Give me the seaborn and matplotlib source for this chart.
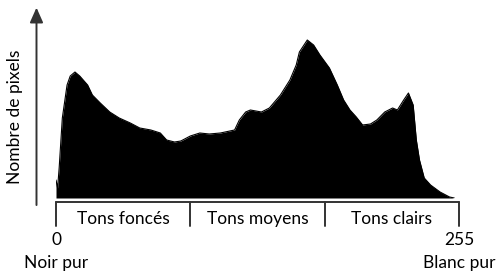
import numpy as np
import pandas as pd
import matplotlib.pyplot as plt
import seaborn as sns

# tonal levels (0 = noir pur, 255 = blanc pur) and pixel counts
levels = [0, 1, 2, 4, 7, 9, 12, 15, 20, 23, 28, 34, 40, 47, 53, 60, 66, 70, 75, 79,
          85, 91, 97, 104, 113, 116, 120, 123, 130, 135, 142, 148, 152, 154, 159, 163,
          167, 173, 178, 182, 186, 190, 194, 199, 203, 208, 213, 216, 220, 223, 226,
          228, 230, 233, 237, 243, 249, 252]
counts = [18, 10, 30, 80, 113, 122, 126, 122, 113, 103, 95, 86, 80, 75, 70, 68, 65, 58,
          56, 57, 62, 65, 64, 65, 68, 78, 86, 88, 86, 90, 103, 118, 133, 146, 158, 153,
          143, 130, 113, 98, 88, 81, 73, 74, 78, 86, 90, 88, 98, 105, 93, 58, 38, 20,
          13, 6, 1, 0]

zone_edges = [0, 85, 170, 255]
zone_labels = ["Tons foncés", "Tons moyens", "Tons clairs"]
end_ticks = ["0", "255"]
end_names = ["Noir pur", "Blanc pur"]
y_label = "Nombre de pixels"

df = pd.DataFrame({"level": levels, "count": counts})

sns.set_style("white")
plt.rcParams['font.family'] = ['Lato', 'DejaVu Sans']

fig = plt.figure(figsize=(5, 2.77), dpi=100)
ax = fig.add_axes([0.112, 0.2852, 0.806, 0.5776])

sns.lineplot(data=df, x="level", y="count", color="black", linewidth=0.8, ax=ax)
ax.fill_between(df["level"], df["count"], color="black", linewidth=0)

ax.set_xlim(0, 255)
ax.set_ylim(0, 160)
ax.set_xticks([])
ax.set_yticks([])
ax.set_xlabel("")
ax.set_ylabel("")
sns.despine(ax=ax, left=True, bottom=True)

trans = ax.get_xaxis_transform()
lc = "#333333"
tc = "black"
fs = 12.5

# bracket under the histogram
ax.plot([zone_edges[0], zone_edges[-1]], [-0.025, -0.025], color=lc, lw=1.4,
        transform=trans, clip_on=False)
for e in zone_edges:
    ax.plot([e, e], [-0.025, -0.175], color=lc, lw=1.4, transform=trans, clip_on=False)
for lab, a, b in zip(zone_labels, zone_edges[:-1], zone_edges[1:]):
    ax.text((a + b) / 2, -0.1625, lab, ha="center", va="baseline", fontsize=fs,
            color=tc, transform=trans)

for tick, name, pos in zip(end_ticks, end_names, [zone_edges[0], zone_edges[-1]]):
    ax.text(pos, -0.294, tick, ha="center", va="baseline", fontsize=fs,
            color=tc, transform=trans)
    ax.text(pos, -0.4375, name, ha="center", va="baseline", fontsize=fs,
            color=tc, transform=trans)

# vertical arrow + label
ax.annotate("", xy=(-0.0484, 1.19), xytext=(-0.0484, -0.044),
            xycoords="axes fraction", textcoords="axes fraction",
            arrowprops=dict(arrowstyle="-|>,head_width=0.4,head_length=0.9",
                            color=lc, lw=1.4, shrinkA=0, shrinkB=0))
ax.text(-0.102, 0.506, y_label, rotation=90, ha="center", va="center",
        fontsize=fs, color=tc, transform=ax.transAxes)

fig.savefig("out.png", dpi=100)
